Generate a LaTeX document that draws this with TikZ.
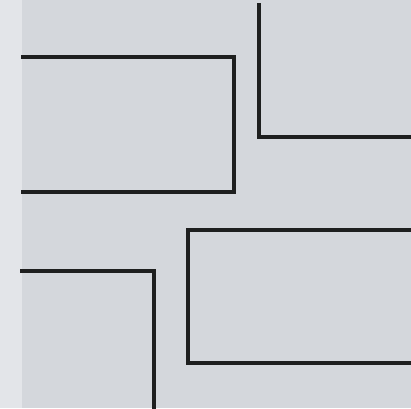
\documentclass[tikz,border=0pt]{standalone}
\usepackage{tikz}
\usepackage{xcolor}
\definecolor{paper}{HTML}{D4D7DC}
\definecolor{margin}{HTML}{E3E5E9}
\definecolor{ink}{HTML}{1E1F1F}

\begin{document}
\begin{tikzpicture}[x=0.02cm, y=-0.02cm]
      \useasboundingbox (0,0) rectangle (411,408);
      \fill[margin] (0,0) rectangle (411,408);
      \fill[paper] (22,0) rectangle (411,408);
      \tikzset{wall/.style={ink, line width=2.1pt, line cap=rect}}
      % upper left block
      \draw[wall] (23,57) -- (234,57) -- (234,192) -- (23,192);
      % upper right block
      \draw[wall] (259,5) -- (259,137) -- (411,137);
      % lower right block
      \draw[wall] (411,230) -- (188,230) -- (188,363) -- (411,363);
      % lower left block
      \draw[wall] (22,271) -- (154,271) -- (154,408);
    \end{tikzpicture}
\end{document}
